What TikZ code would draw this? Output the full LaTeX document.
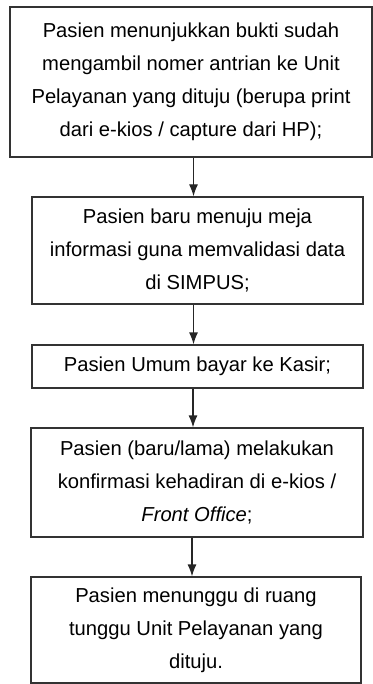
\documentclass[tikz,border=0pt]{standalone}
\usepackage{fontspec}
\setmainfont{Liberation Sans}
\usetikzlibrary{arrows.meta}
\begin{document}
\begin{tikzpicture}[
    x=0.5pt, y=-0.5pt,
    stepbox/.style={rectangle, draw=black!80, line width=0.6pt, align=center, inner sep=0pt, font=\fontsize{10.1}{16.5}\selectfont},
    arrowstyle/.style={-{Latex[length=6pt, width=4.5pt]}, draw=black!85, line width=0.6pt}
]
    \useasboundingbox (0,0) rectangle (373,684);

    \node[stepbox, minimum width=181pt, minimum height=75pt] (show) at (191,82) {Pasien menunjukkan bukti sudah\\ mengambil nomer antrian ke Unit\\ Pelayanan yang dituju (berupa print\\ dari e-kios / capture dari HP);};
    \node[stepbox, minimum width=165.5pt, minimum height=53.5pt] (info) at (197.5,250.5) {Pasien baru menuju meja\\ informasi guna memvalidasi data\\ di SIMPUS;};
    \node[stepbox, minimum width=165.5pt, minimum height=21.5pt] (cashier) at (197.5,366.5) {Pasien Umum bayar ke Kasir;};
    \node[stepbox, minimum width=166pt, minimum height=54.5pt] (confirm) at (197,482.5) {Pasien (baru/lama) melakukan\\ konfirmasi kehadiran di e-kios /\\ \textit{Front Office};};
    \node[stepbox, minimum width=165pt, minimum height=53pt] (wait) at (196,630) {Pasien menunggu di ruang\\ tunggu Unit Pelayanan yang\\ dituju.};

    \draw[arrowstyle] ([xshift=-2pt]info.north |- show.south) -- ([xshift=-2pt]info.north);
    \draw[arrowstyle] ([xshift=-2pt]cashier.north |- info.south) -- ([xshift=-2pt]cashier.north);
    \draw[arrowstyle] ([xshift=-2pt]confirm.north |- cashier.south) -- ([xshift=-2pt]confirm.north);
    \draw[arrowstyle] ([xshift=-2pt]wait.north |- confirm.south) -- ([xshift=-2pt]wait.north);
\end{tikzpicture}
\end{document}
